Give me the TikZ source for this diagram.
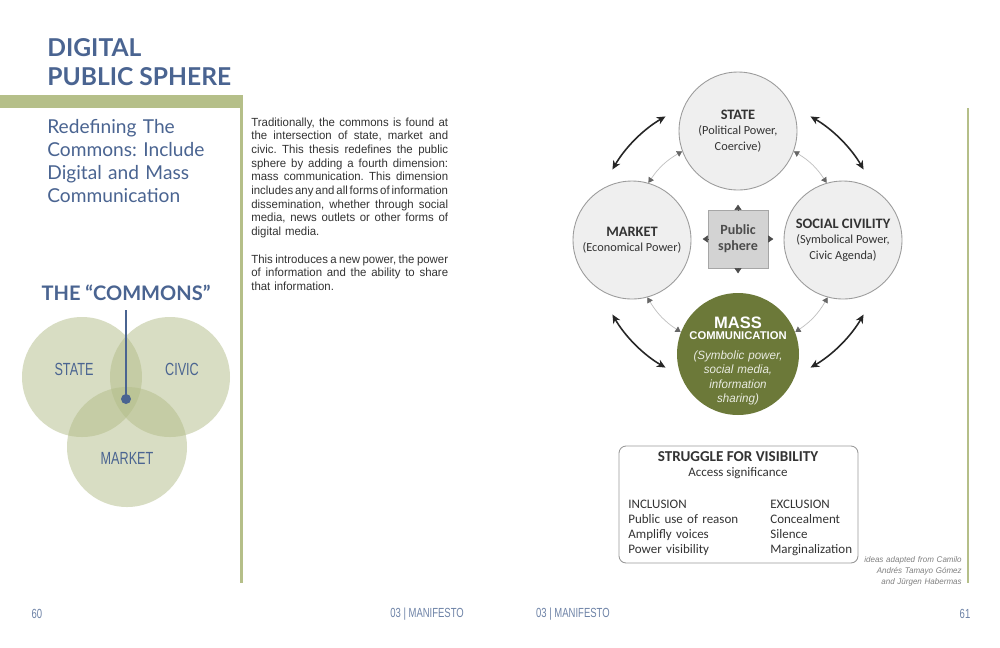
\documentclass[tikz,border=0pt]{standalone}
\usepackage{fontspec}
\usepackage{xcolor}
\usetikzlibrary{arrows.meta}

\setmainfont{Liberation Sans}
\newfontfamily\latofont{Lato}
\newfontfamily\bodyfont[FakeStretch=0.97]{Liberation Sans}
\newfontfamily\condfont[FakeStretch=0.72]{Liberation Sans}
\newfontfamily\diagfont{Carlito}
\frenchspacing

\definecolor{pageblue}{HTML}{4A6491}
\definecolor{leafgreen}{HTML}{B5BF89}
\definecolor{vennfill}{HTML}{B3BD88}
\definecolor{massgreen}{HTML}{6C7939}
\definecolor{bubblegray}{HTML}{EFEFEF}
\definecolor{rimgray}{HTML}{9C9C9C}
\definecolor{inkgray}{HTML}{333333}
\definecolor{boxgray}{HTML}{D3D3D3}

% one justified line of the column text
\newcommand{\jline}[1]{\leavevmode\hbox to 112pt{\spaceskip=0.25em plus 1em minus 0.2em\relax #1}}
% bold heading inside a bubble
\newcommand{\bhead}[1]{{\fontsize{8.2}{8.8}\selectfont\bfseries #1}}

\tikzset{
  bubble/.style={circle, draw=rimgray, line width=0.5pt, fill=bubblegray,
    minimum size=2.36cm, inner sep=0pt, align=center, text=inkgray,
    font=\diagfont\fontsize{7}{8.8}\selectfont},
  vennring/.style={fill=vennfill, fill opacity=0.5},
  vennlabel/.style={text=pageblue, font=\condfont\fontsize{10}{12}\selectfont},
  swing/.style={{Stealth[length=5pt,width=4.5pt]}-{Stealth[length=5pt,width=4.5pt]},
    line width=0.9pt, draw=black!85},
  link/.style={{Triangle[length=3pt,width=3.5pt,color=black!60]}-{Triangle[length=3pt,width=3.5pt,color=black!60]},
    draw=black!25, line width=0.4pt},
  nub/.style={-{Triangle[length=3pt,width=4pt]}, draw=black!70, line width=0.3pt},
  boxtext/.style={text=inkgray, font=\diagfont\fontsize{7.4}{8.7}\selectfont, inner sep=0pt},
  footer/.style={text=pageblue!80, font=\condfont\fontsize{7.5}{9}\selectfont}
}

\begin{document}
\begin{tikzpicture}[x=0.02cm, y=0.02cm]

\fill[white] (0,0) rectangle (1000,-647);
\useasboundingbox (0,0) rectangle (1000,-647);

% Title
\node[anchor=base west, inner sep=0pt, text=pageblue, font=\latofont\bfseries\fontsize{14}{16}\selectfont]
  (title1) at (47,-56) {DIGITAL};
\node[anchor=base west, inner sep=0pt, text=pageblue, font=\latofont\bfseries\fontsize{14}{16}\selectfont]
  (title2) at (47,-85) {PUBLIC SPHERE};

% Green bar and rules
\fill[leafgreen] (0,-95) rectangle (243,-108);
\draw[leafgreen, line width=1.4pt] (241.5,-95) -- (241.5,-583);
\draw[leafgreen, line width=1.2pt] (968,-108) -- (968,-583);

% Subtitle
\node[anchor=base west, inner sep=0pt, text width=200pt, align=left, text=pageblue,
  font=\latofont\fontsize{10.9}{13.2}\selectfont] (subtitle) at (47,-133)
  {Redefining The\\Commons: Include\\Digital and Mass\\Communication};

% Column text
\node[anchor=base west, inner sep=0pt, text width=114pt, align=left, text=inkgray,
  font=\bodyfont\fontsize{6.7}{7.8}\selectfont] (body) at (251,-126)
  {\jline{Traditionally, the commons is found at}\\
   \jline{the intersection of state, market and}\\
   \jline{civic. This thesis redefines the public}\\
   \jline{sphere by adding a fourth dimension:}\\
   \jline{mass communication. This dimension}\\
   \jline{includes any and all forms of information}\\
   \jline{dissemination, whether through social}\\
   \jline{media, news outlets or other forms of}\\
   digital media.\\[7.8pt]
   \jline{This introduces a new power, the power}\\
   \jline{of information and the ability to share}\\
   that information.};

% The commons (Venn)
\node[text=pageblue, font=\latofont\bfseries\fontsize{11.4}{13}\selectfont] (commons) at (126,-293)
  {THE “COMMONS”};
\fill[vennring] (82,-377) circle[radius=60];
\fill[vennring] (170,-377) circle[radius=60];
\fill[vennring] (127,-447) circle[radius=60];
\node[vennlabel] (vstate) at (74,-369) {STATE};
\node[vennlabel] (vcivic) at (182,-369) {CIVIC};
\node[vennlabel] (vmarket) at (127,-458) {MARKET};
\coordinate (core) at (126,-399);
\draw[pageblue, line width=1.7pt] (commons.south |- 0,-310) -- (core);
\fill[pageblue] (core) circle[radius=5];

% Public sphere diagram
\coordinate (hub) at (738,-242);
\node[bubble] (state) at (738,-131) {\bhead{STATE}\\(Political Power,\\Coercive)};
\node[bubble] (market) at (632,-240) {\bhead{MARKET}\\(Economical Power)};
\node[bubble] (social) at (843,-240) {\bhead{SOCIAL CIVILITY}\\(Symbolical Power,\\Civic Agenda)};
\node[circle, fill=massgreen, minimum size=2.44cm, inner sep=0pt] (mass) at (738,-354) {};

\draw[link] (market.74) to[bend left=13] (state.200);
\draw[link] (state.340) to[bend left=13] (social.106);
\draw[link] (social.255) to[bend left=13] (mass.21);
\draw[link] (mass.159) to[bend left=13] (market.285);

\node[anchor=base, inner sep=0pt, text=white, font=\bfseries\fontsize{9.4}{10}\selectfont]
  (masshead) at (738,-328) {MASS};
\node[anchor=base, inner sep=0pt, text=white, font=\bfseries\fontsize{6.4}{7}\selectfont]
  (masssub) at (738,-339) {COMMUNICATION};
\node[anchor=base, inner sep=0pt, text width=2.2cm, align=center, text=white!85!massgreen,
  font=\bodyfont\itshape\fontsize{6.8}{8.3}\selectfont] (massdesc) at (738,-359)
  {(Symbolic power,\\social media,\\information\\sharing)};

\node[draw=black!35, fill=boxgray, minimum width=1.2cm, minimum height=1.16cm, inner sep=0pt,
  align=center, text=black!70, font=\diagfont\bfseries\fontsize{8}{9}\selectfont]
  (ps) at (738,-239) {Public\\sphere};
\draw[nub] (ps.north) -- ++(0,5);
\draw[nub] (ps.south) -- ++(0,-5);
\draw[nub] (ps.west) -- ++(-5,0);
\draw[nub] (ps.east) -- ++(5,0);

% Outer double arrows
\draw[swing] ([shift={(120:145)}]hub) arc[start angle=120, end angle=150, radius=145];
\draw[swing] ([shift={(30:145)}]hub) arc[start angle=30, end angle=60, radius=145];
\draw[swing] ([shift={(210:145)}]hub) arc[start angle=210, end angle=240, radius=145];
\draw[swing] ([shift={(300:145)}]hub) arc[start angle=300, end angle=330, radius=145];

% Struggle for visibility
\node[draw=black!40, rounded corners=4pt, line width=0.5pt, minimum width=4.78cm,
  minimum height=2.34cm] (visbox) at (738.5,-504.5) {};
\node[boxtext, anchor=base, font=\diagfont\bfseries\fontsize{8.6}{9}\selectfont] (vishead) at (738,-461)
  {STRUGGLE FOR VISIBILITY};
\node[boxtext, anchor=base] (vissub) at (738,-476) {Access significance};
\node[boxtext, anchor=base west, text width=80pt, align=left] (incl) at (628,-508)
  {INCLUSION\\Public use of reason\\Amplifly voices\\Power visibility};
\node[boxtext, anchor=base west, text width=80pt, align=left] (excl) at (770,-508)
  {EXCLUSION\\Concealment\\Silence\\Marginalization};

% Credits
\node[anchor=base east, inner sep=0pt, text width=2.2cm, align=right, text=black!50,
  font=\bodyfont\itshape\fontsize{4.7}{6.5}\selectfont] (credit) at (962,-562)
  {ideas adapted from Camilo\\Andrés Tamayo Gómez\\and Jürgen Habermas};

% Footer
\node[footer] (pgleft) at (37,-614) {60};
\node[footer, anchor=east] (runleft) at (470,-614) {03 | MANIFESTO};
\node[footer, anchor=west] (runright) at (530,-614) {03 | MANIFESTO};
\node[footer] (pgright) at (965,-614) {61};

\end{tikzpicture}
\end{document}
